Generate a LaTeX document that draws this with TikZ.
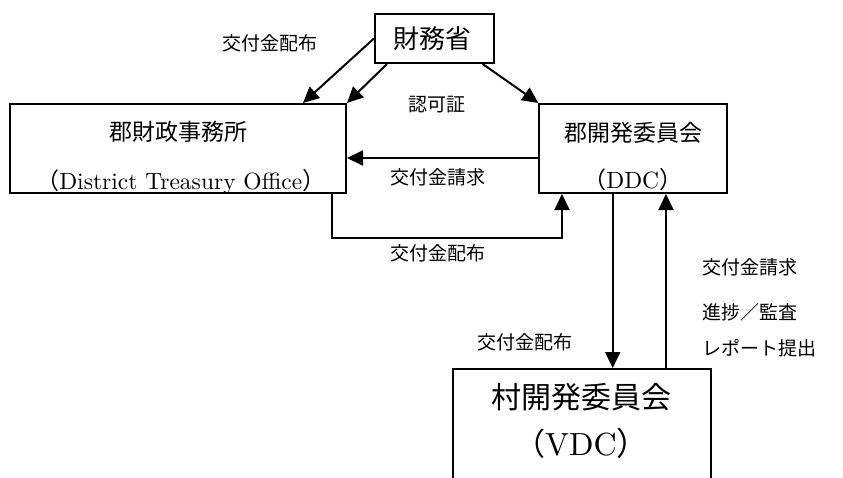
\documentclass[tikz,border=0pt]{standalone}
\usepackage{fontspec}
\newfontfamily\jp{Noto Sans CJK JP}
\newfontfamily\lat{lmroman10-regular.otf}
\usetikzlibrary{arrows.meta}
\begin{document}
\begin{tikzpicture}[x=1pt,y=-1pt,
  box/.style={draw,line width=2pt,inner sep=0pt},
  conn/.style={line width=2pt,-{Triangle[length=16pt,width=15pt]}},
  lab/.style={inner sep=0pt,font=\fontsize{19}{19}\selectfont\jp},
  btxt/.style={inner sep=0pt,font=\fontsize{23}{23}\selectfont},
]
\useasboundingbox (0,0) rectangle (843,477);
% boxes
\node[box,minimum width=118.7pt,minimum height=49pt] (fin) at (434.3,38.5) {};
\node[btxt,font=\fontsize{26}{26}\selectfont\jp] (fint) at (432,38.5) {財務省};
\node[box,minimum width=336.5pt,minimum height=89pt] (tax) at (177.75,148.5) {};
\node[btxt] (taxt1) at (178,132) {\jp 郡財政事務所};
\node[btxt] (taxt2) at (181,182) {\jp（\lat\fontsize{23.5}{24}\selectfont District Treasury Office\jp）};
\node[box,minimum width=187.4pt,minimum height=89pt] (ddc) at (633,148.5) {};
\node[btxt] (ddct1) at (633,133) {\jp 郡開発委員会};
\node[btxt] (ddct2) at (633,180) {\jp（\lat\fontsize{23.5}{24}\selectfont DDC\jp）};
\node[box,minimum width=257.7pt,minimum height=130pt] (vdc) at (581.85,434) {};
\node[btxt,font=\fontsize{30}{30}\selectfont] (vdct1) at (581.5,397) {\jp 村開発委員会};
\node[btxt,font=\fontsize{31}{31}\selectfont] (vdct2) at (581.5,443) {\jp（\lat\fontsize{32}{32}\selectfont VDC\jp）};
% labels
\node[lab] (l1) at (270,43) {交付金配布};
\node[lab] (l2) at (437,105) {認可証};
\node[lab] (l3) at (438,177) {交付金請求};
\node[lab] (l4) at (438,253) {交付金配布};
\node[lab] (l5) at (525,342) {交付金配布};
\node[lab,anchor=west] (l6) at (702,267) {交付金請求};
\node[lab,anchor=west] (l7) at (702,312) {進捗／監査};
\node[lab,anchor=west] (l8) at (702,348) {レポート提出};
% connectors
\draw[conn] (fin.west) -- ([xshift=-44pt]tax.north east);
\draw[conn] ([xshift=13pt]fin.south west) -- (tax.north east);
\draw[conn] ([xshift=-12pt]fin.south east) -- (ddc.north west);
\coordinate (dw) at ([yshift=-9.5pt]ddc.west);
\draw[conn] (dw) -- (dw -| tax.east);
\coordinate (ts) at ([xshift=-15pt]tax.south east);
\draw[conn] (ts) -- ++(0,44) -| ([xshift=23.7pt]ddc.south west);
\coordinate (dd) at ([xshift=-20.3pt]ddc.south);
\draw[conn] (dd) -- (dd |- vdc.north);
\coordinate (vu) at ([xshift=33pt]ddc.south);
\draw[conn] (vu |- vdc.north) -- (vu);
\end{tikzpicture}
\end{document}
